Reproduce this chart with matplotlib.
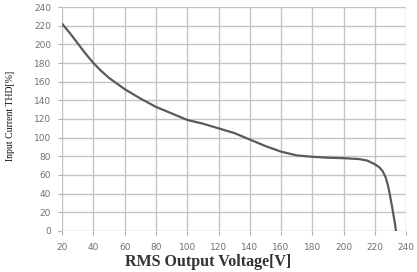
import matplotlib
matplotlib.use("Agg")
import matplotlib.pyplot as plt
import numpy as np

voltage = [20, 25, 30, 35, 40, 45, 50, 55, 60, 70, 80, 90, 100, 110, 120, 130, 140, 150, 160, 170, 180, 190, 200, 210, 215, 220, 223, 225, 227, 228, 229, 230, 231, 232, 233, 233.5]
thd = [222, 212, 201, 190, 180, 171.5, 164, 158, 152, 142, 133, 126, 119, 115, 110, 105, 98, 91, 85, 81, 79.5, 78.5, 78, 77, 75.5, 71.5, 68, 64, 57, 51, 44, 35, 26, 16, 6, 0]
x_ticks = list(range(20, 241, 20))
y_ticks = list(range(0, 241, 20))

fig = plt.figure(figsize=(4.17, 2.72), dpi=100)
ax = fig.add_axes([0.149, 0.151, 0.825, 0.823])
ax.plot(voltage, thd, color="#5a5a5a", lw=1.6, solid_capstyle="round")
ax.set_xlim(20, 240)
ax.set_ylim(0, 240)
ax.set_xticks(x_ticks)
ax.set_yticks(y_ticks)
ax.grid(True, color="#c4c4c4", lw=1.0)
for s in ax.spines.values():
    s.set_visible(False)
ax.tick_params(axis="both", colors="#b0b0b0", labelcolor="#707070", labelsize=6.5, length=3, width=0.8)
ax.tick_params(axis="x", pad=6)
ax.tick_params(axis="y", pad=5)
ax.set_axisbelow(True)
fig.text(0.025, 0.575, "Input Current THD[%]", rotation=90, ha="center", va="center",
         family="Liberation Serif", fontsize=7, color="#111111")
fig.text(0.50, 0.006, "RMS Output Voltage[V]", ha="center", va="bottom",
         family="Liberation Serif", fontsize=11.5, fontweight="bold", color="#333333")
fig.savefig("out.png", dpi=100)
